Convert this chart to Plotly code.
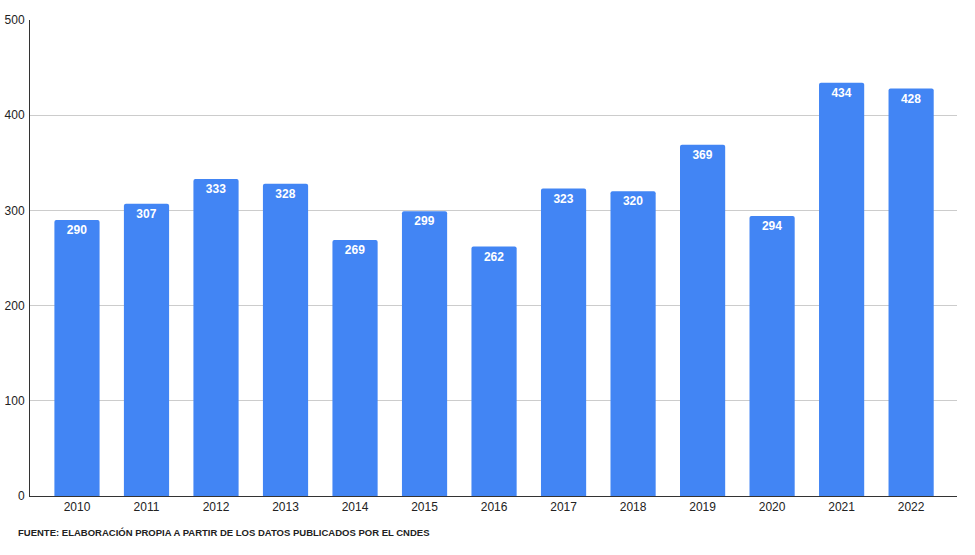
import plotly.graph_objects as go

years = ["2010", "2011", "2012", "2013", "2014", "2015", "2016", "2017", "2018", "2019", "2020", "2021", "2022"]
values = [290, 307, 333, 328, 269, 299, 262, 323, 320, 369, 294, 434, 428]
y_ticks = [0, 100, 200, 300, 400, 500]
source = "FUENTE: ELABORACIÓN PROPIA A PARTIR DE LOS DATOS PUBLICADOS POR EL CNDES"

fig = go.Figure(go.Bar(
    x=list(range(len(years))), y=values,
    marker=dict(color="#4285F4", line=dict(width=0)),
    width=0.65,
    text=[str(v) for v in values],
    textposition="inside", insidetextanchor="end",
    textfont=dict(color="white", size=12, family="Liberation Sans", weight="bold"),
    textangle=0,
))

fig.update_layout(
    width=975, height=555,
    margin=dict(l=30, r=18, t=20, b=59),
    plot_bgcolor="white", paper_bgcolor="white",
    barcornerradius=2,
    showlegend=False,
    font=dict(family="Liberation Sans, Arial", size=12, color="#222222"),
    xaxis=dict(
        tickmode="array", tickvals=list(range(len(years))), ticktext=years,
        range=[-0.676, 12.66], showgrid=False, showline=True, linecolor="#333333",
        linewidth=1, ticks="", tickfont=dict(size=12, color="#222222"),
        automargin=False,
    ),
    yaxis=dict(
        range=[0, 500], tickvals=y_ticks, showgrid=True, gridcolor="#CCCCCC",
        showline=True, linecolor="#333333", linewidth=1, ticks="",
        tickfont=dict(size=12, color="#222222"), zeroline=False,
        automargin=False, ticklabelstandoff=2,
    ),
    annotations=[dict(
        text="<b>" + source + "</b>",
        xref="paper", yref="paper", x=-14 / 927, y=-(532 - 496) / 476,
        xanchor="left", yanchor="middle",
        showarrow=False, font=dict(size=9.5, color="#222222", family="Liberation Sans"),
    )],
)

fig.write_html("out.html", config={"displayModeBar": False},
               post_script="document.body.style.margin='0';")
